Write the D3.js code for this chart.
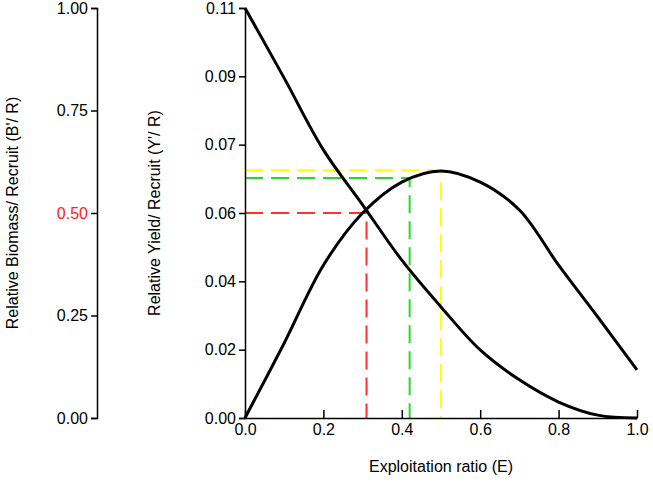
<!DOCTYPE html>
<html><head><meta charset="utf-8">
<script src="https://cdn.jsdelivr.net/npm/d3@7"></script>
<style>body{margin:0;background:#fff}text{font-family:"Liberation Sans",Arial,sans-serif}</style>
</head><body>
<script>
var exploit = [0, 0.1, 0.2, 0.3, 0.4, 0.5, 0.6, 0.7, 0.8, 0.9, 1.0];
var yieldPerRecruit = [0, 0.0201, 0.0410, 0.0550, 0.0633, 0.0663, 0.0633, 0.0558, 0.0410, 0.0271, 0.0129];
var biomassPerRecruit = [1.0, 0.829, 0.654, 0.52, 0.385, 0.271, 0.166, 0.093, 0.039, 0.007, 0];
var biomassTicks = [0, 0.25, 0.5, 0.75, 1.0];
var yieldTickLabels = ["0.00", "0.02", "0.04", "0.06", "0.07", "0.09", "0.11"];
var refLines = [
	{E: 0.31, Y: 0.055, color: "#ff3030"},
	{E: 0.42, Y: 0.0644, color: "#22dd22"},
	{E: 0.50, Y: 0.0665, color: "#ffff00"}
];

window.onload = function(){ Main(); };
function Main()
{
	var svg = d3.select("body").append("svg").attr("width", 653).attr("height", 487);
	var top = 8, bottom = 418, left = 245, right = 637;
	var x = d3.scaleLinear().domain([0, 1]).range([left, right]);
	var yY = d3.scaleLinear().domain([0, 0.11]).range([bottom, top]);
	var yB = d3.scaleLinear().domain([0, 1]).range([bottom, top]);

	// dashed reference lines
	refLines.forEach(function(r) {
		svg.append("path")
			.attr("d", "M" + x(0) + "," + yY(r.Y) + "H" + x(r.E) + "V" + bottom)
			.attr("fill", "none").attr("stroke", r.color)
			.attr("stroke-width", 2).attr("stroke-dasharray", "18,8");
	});

	var line = d3.line().curve(d3.curveCatmullRom.alpha(0.5));
	svg.append("path")
		.attr("d", line(exploit.map(function(e, i) { return [x(e), yY(yieldPerRecruit[i])]; })))
		.attr("fill", "none").attr("stroke", "#000").attr("stroke-width", 3);
	svg.append("path")
		.attr("d", line(exploit.map(function(e, i) { return [x(e), yB(biomassPerRecruit[i])]; })))
		.attr("fill", "none").attr("stroke", "#000").attr("stroke-width", 3);

	// axes
	var gx = svg.append("g").attr("transform", "translate(0," + bottom + ")")
		.call(d3.axisBottom(x).ticks(5).tickFormat(d3.format(".1f")).tickSizeOuter(0).tickSizeInner(-8).tickPadding(6));
	var gy = svg.append("g").attr("transform", "translate(" + left + ",0)")
		.call(d3.axisLeft(yY).tickValues(d3.range(7).map(function(i) { return i * 0.11 / 6; }))
			.tickFormat(function(d, i) { return yieldTickLabels[i]; }).tickSizeOuter(0).tickSize(6).tickPadding(3));
	var gb = svg.append("g").attr("transform", "translate(97,0)")
		.call(d3.axisLeft(yB).tickValues(biomassTicks).tickFormat(d3.format(".2f")).tickSizeOuter(0).tickSize(6).tickPadding(3));
	[gx, gy, gb].forEach(function(g) {
		g.selectAll("path,line").attr("stroke", "#000").attr("stroke-width", 1.5);
		g.selectAll("text").attr("font-size", 16).attr("fill", "#000")
			.style("font-family", "Liberation Sans, Arial, sans-serif");
	});
	gb.selectAll("text").filter(function(d) { return d === 0.5; }).attr("fill", "#ff2020");

	svg.append("text").attr("x", x(0.5)).attr("y", 472).attr("text-anchor", "middle")
		.attr("font-size", 16).text("Exploitation ratio (E)");
	svg.append("text").attr("transform", "translate(160," + (top + bottom) / 2 + ") rotate(-90)")
		.attr("text-anchor", "middle").attr("font-size", 16).text("Relative Yield/ Recruit (Y'/ R)");
	svg.append("text").attr("transform", "translate(18," + (top + bottom) / 2 + ") rotate(-90)")
		.attr("text-anchor", "middle").attr("font-size", 16).text("Relative Biomass/ Recruit (B'/ R)");
}
</script>
</body></html>
